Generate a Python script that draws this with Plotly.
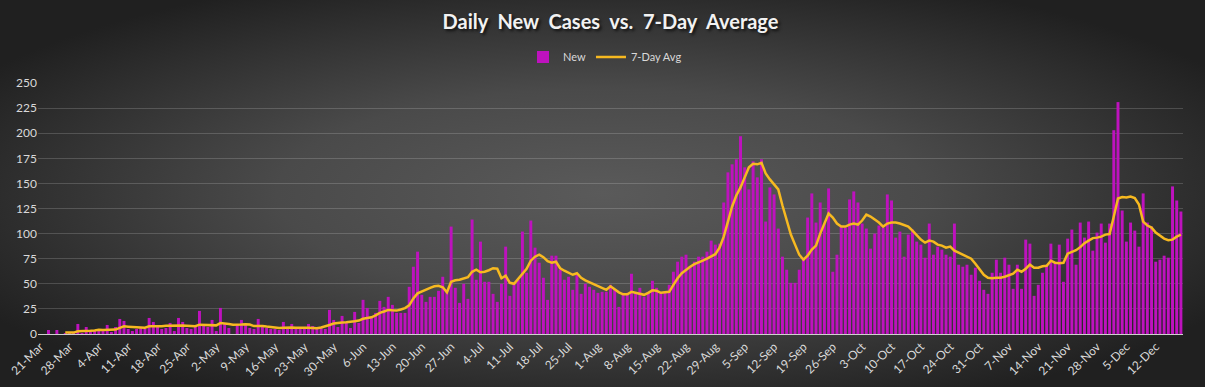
import base64
import pandas as pd
import plotly.graph_objects as go

start_date = "2020-03-21"

new_cases = [
    0, 0, 4, 0, 4, 0, 1, 1, 1, 10, 1, 7, 2, 3, 5, 3, 9, 2, 7, 15,
    13, 5, 3, 5, 6, 5, 16, 12, 7, 5, 6, 11, 3, 16, 12, 6, 5, 7, 23, 8,
    7, 14, 3, 26, 10, 6, 0, 10, 14, 10, 6, 5, 15, 7, 6, 5, 5, 4, 12, 5,
    10, 5, 6, 5, 10, 8, 5, 6, 5, 24, 14, 7, 18, 11, 6, 22, 11, 34, 26, 16,
    21, 33, 27, 37, 29, 21, 21, 21, 47, 67, 82, 39, 32, 37, 37, 43, 57, 43, 107, 46,
    31, 50, 35, 114, 54, 92, 52, 52, 40, 32, 50, 87, 38, 50, 54, 102, 61, 113, 86, 71,
    56, 34, 78, 78, 64, 54, 57, 44, 59, 40, 50, 47, 44, 41, 42, 42, 49, 44, 27, 41,
    41, 60, 41, 46, 37, 42, 53, 46, 41, 41, 49, 62, 72, 77, 79, 67, 72, 77, 77, 82,
    93, 89, 90, 131, 161, 169, 174, 197, 166, 144, 172, 156, 174, 112, 146, 139, 105, 77, 64, 51,
    51, 64, 76, 116, 140, 111, 131, 110, 145, 62, 79, 107, 106, 134, 142, 131, 110, 105, 85, 100,
    108, 106, 139, 133, 96, 102, 77, 99, 104, 92, 89, 76, 110, 79, 87, 84, 79, 77, 110, 69,
    67, 69, 59, 66, 53, 44, 40, 61, 74, 61, 76, 69, 45, 69, 45, 94, 90, 38, 49, 61,
    69, 90, 71, 89, 52, 95, 104, 69, 111, 96, 112, 83, 101, 110, 91, 110, 203, 231, 123, 92,
    111, 103, 87, 140, 111, 107, 72, 74, 78, 76, 147, 133, 122,
]

avg_7day = [None] * 6 + [
    1.4, 1.4, 1.4, 2.7, 2.7, 3.3, 3.3, 3.6, 4.3, 4.0, 4.3, 4.0, 4.4, 6.1,
    7.6, 7.3, 7.1, 6.7, 6.4, 6.3, 7.6, 7.5, 7.6, 7.8, 8.1, 8.3, 8.4, 8.4, 8.4, 8.3,
    8.0, 7.7, 9.3, 9.0, 8.9, 9.1, 8.6, 10.9, 10.6, 9.9, 9.2, 9.0, 9.4, 9.6, 9.4, 7.9,
    8.1, 8.0, 7.4, 6.9, 6.3, 6.0, 6.3, 6.0, 6.4, 6.3, 6.0, 6.2, 6.3, 6.0, 5.8, 6.5,
    7.4, 9.0, 10.5, 10.6, 11.4, 11.6, 11.8, 12.6, 13.4, 15.2, 16.0, 16.6, 18.5, 21.0, 22.4, 24.0,
    23.6, 23.3, 24.4, 25.8, 28.5, 35.5, 40.5, 42.5, 44.0, 46.0, 47.5, 48.0, 46.5, 41.5, 52.0, 53.5,
    54.0, 55.0, 56.5, 62.0, 64.0, 61.5, 62.0, 63.5, 65.5, 65.0, 55.5, 58.0, 51.0, 50.0, 55.0, 60.5,
    65.0, 73.0, 77.0, 79.0, 76.5, 72.5, 71.0, 72.0, 65.5, 63.0, 61.0, 59.0, 60.5, 56.0, 53.5, 51.5,
    50.0, 48.0, 46.0, 44.0, 47.5, 44.5, 41.5, 39.5, 39.5, 42.0, 41.0, 40.5, 39.0, 41.0, 43.5, 43.0,
    41.0, 41.5, 42.0, 49.0, 55.5, 60.5, 64.0, 67.0, 69.5, 71.0, 73.0, 75.0, 77.0, 79.5, 86.0, 97.0,
    112.0, 127.0, 138.0, 146.0, 156.0, 166.0, 169.5, 169.0, 170.5, 160.0, 154.0, 149.0, 144.0, 128.0, 113.0, 99.0,
    89.0, 79.0, 74.0, 78.0, 84.0, 88.0, 100.0, 110.0, 120.0, 116.0, 110.0, 107.0, 107.0, 109.0, 110.0, 109.0,
    113.0, 119.0, 117.0, 114.0, 111.0, 107.0, 110.0, 111.0, 111.0, 110.0, 108.5, 107.0, 103.0, 98.0, 94.0, 91.0,
    93.0, 92.0, 89.0, 88.0, 86.0, 87.0, 83.0, 81.0, 79.0, 77.0, 75.0, 70.0, 65.0, 59.0, 56.0, 55.5,
    56.0, 56.0, 57.0, 58.5, 60.0, 64.0, 62.0, 65.0, 69.0, 66.0, 66.0, 67.5, 68.0, 73.0, 71.0, 70.5,
    71.0, 80.0, 81.5, 83.5, 86.5, 90.5, 93.0, 95.5, 96.0, 97.0, 99.0, 99.5, 117.0, 135.0, 136.5, 136.0,
    137.0, 135.5, 129.0, 112.0, 108.0, 106.0, 101.0, 98.0, 95.0, 93.5, 94.0, 97.0, 99.0,
]

dates = pd.date_range(start_date, periods=len(new_cases), freq="D")
categories = [f"{d.day}-{d.strftime('%b')}" for d in dates]
tick_labels = categories[::7]
y_ticks = list(range(0, 251, 25))

# background radial gradient (as an SVG image)
svg = (
    '<svg xmlns="http://www.w3.org/2000/svg" width="1205" height="387" '
    'preserveAspectRatio="none" viewBox="0 0 1205 387">'
    '<defs><radialGradient id="g" cx="50%" cy="50%" r="60%">'
    '<stop offset="0%" stop-color="#5a5a5a"/>'
    '<stop offset="45%" stop-color="#4a4a4a"/>'
    '<stop offset="100%" stop-color="#202020"/>'
    '</radialGradient></defs>'
    '<rect width="1205" height="387" fill="url(#g)"/></svg>'
)
bg_uri = "data:image/svg+xml;base64," + base64.b64encode(svg.encode()).decode()

W, H = 1205, 387
ml, mr, mt, mb = 38, 22, 83, 53
pw, ph = W - ml - mr, H - mt - mb

fig = go.Figure()
fig.add_trace(go.Bar(
    x=categories, y=new_cases, name="New",
    marker=dict(color="#BE12BE", line=dict(width=0)),
))
fig.add_trace(go.Scatter(
    x=categories, y=avg_7day, name="7-Day Avg", mode="lines",
    line=dict(color="#F7B920", width=2.5),
    connectgaps=False,
))

fig.update_layout(
    width=W, height=H,
    margin=dict(l=ml, r=mr, t=mt, b=mb, autoexpand=False),
    paper_bgcolor="#2e2e2e",
    plot_bgcolor="rgba(0,0,0,0)",
    bargap=0.3,
    title=dict(
        text="Daily  New  Cases  vs.  7-Day  Average",
        x=0.5, xanchor="center", xref="paper",
        y=1 - 22 / H, yanchor="middle",
        font=dict(family="Lato", size=20, color="#f2f2f2", weight="bold",
                  shadow="2px 2px 3px rgba(0,0,0,0.7)"),
    ),
    legend=dict(
        orientation="h", x=(605 - ml) / pw, xanchor="center", y=1 + 26 / ph, yanchor="middle",
        font=dict(family="Lato", size=11, color="#d9d9d9"),
        bgcolor="rgba(0,0,0,0)", tracegroupgap=0,
    ),
    showlegend=True,
    images=[dict(
        source=bg_uri, xref="paper", yref="paper",
        x=-ml / pw, y=1 + mt / ph, sizex=W / pw, sizey=H / ph,
        xanchor="left", yanchor="top", sizing="stretch", layer="below",
    )],
)

fig.update_xaxes(
    type="category", automargin=False,
    range=[-0.5, len(categories) - 0.5],
    tickmode="array", tickvals=tick_labels, ticktext=tick_labels,
    tickangle=-45,
    tickfont=dict(family="Lato", size=12, color="#d9d9d9"),
    showgrid=False, zeroline=False,
    showline=True, linecolor="#d0d0d0", linewidth=1,
    ticks="",
)
fig.update_yaxes(
    range=[0, 250], automargin=False,
    tickmode="array", tickvals=y_ticks,
    tickfont=dict(family="Lato", size=12, color="#d9d9d9"),
    showgrid=True, gridcolor="rgba(255,255,255,0.17)", gridwidth=1,
    zeroline=False, showline=False, ticks="",
)

fig.write_html(
    "out.html",
    config={"displayModeBar": False},
    post_script="document.body.style.margin='0';document.body.style.overflow='hidden';",
)
